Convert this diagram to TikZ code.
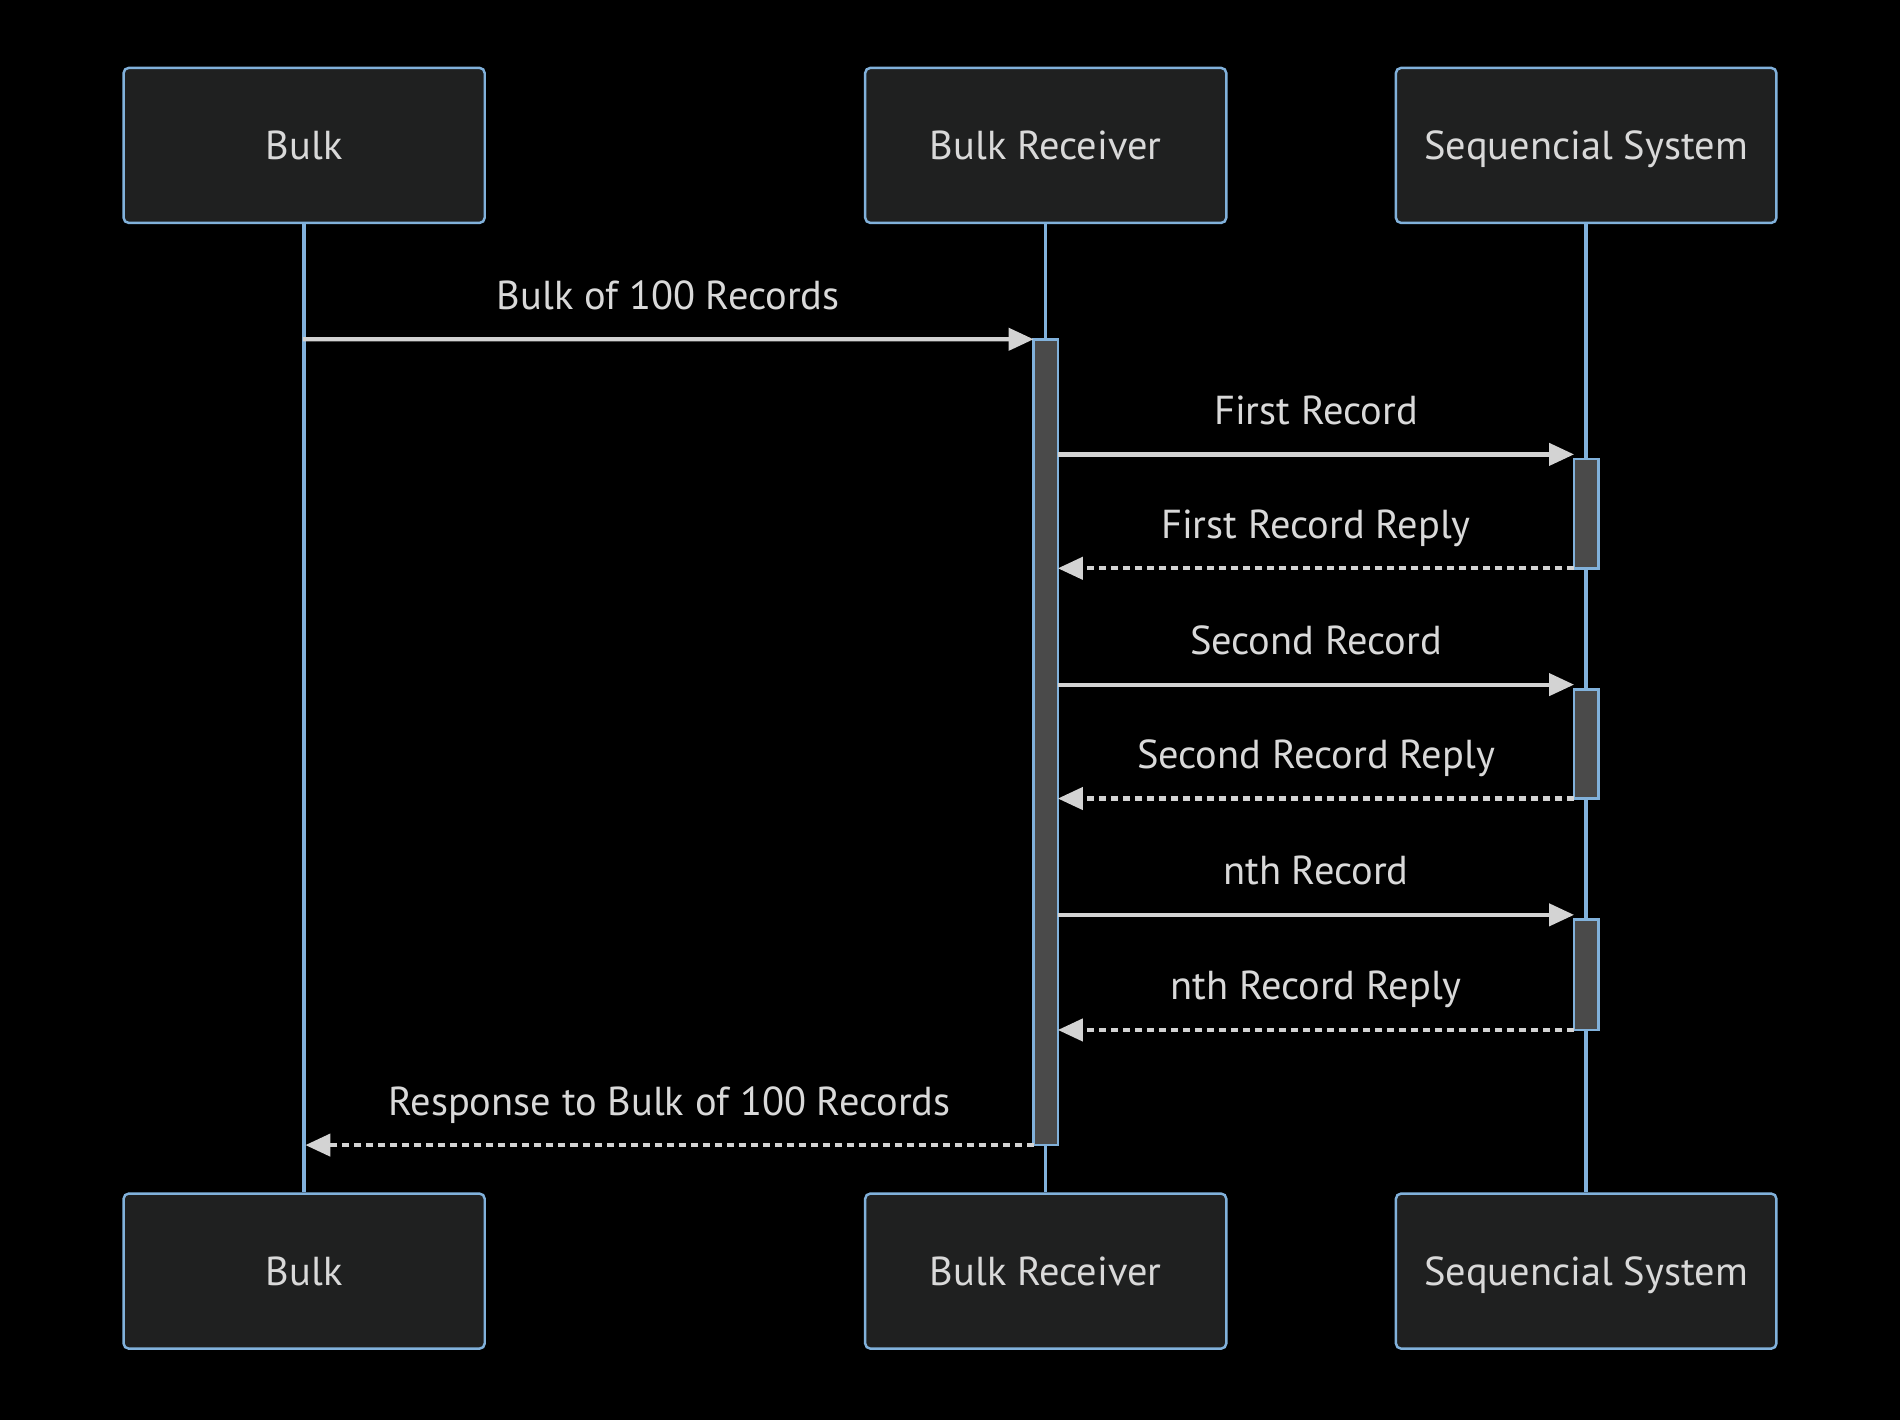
\documentclass[tikz,border=0pt]{standalone}
\usepackage{fontspec}
\setmainfont{PT Sans}
\usetikzlibrary{arrows.meta,fit,positioning}
\definecolor{boxfill}{HTML}{1F2020}
\definecolor{boxline}{HTML}{81B1DB}
\definecolor{msgline}{HTML}{D3D3D3}
\definecolor{actfill}{HTML}{4A4A4A}
\definecolor{labeltext}{HTML}{D9D9D9}

\begin{document}
\begin{tikzpicture}[x=0.012117cm, y=-0.012117cm,
    font=\fontsize{11.5}{14}\selectfont,
    actor/.style={draw=boxline, fill=boxfill, rounded corners=1.5pt,
        line width=0.7pt, minimum height=1.551cm, text=labeltext,
        text height=0.82em, text depth=0pt},
    lifeline/.style={draw=boxline, line width=1pt},
    actbar/.style={draw=boxline, fill=actfill, line width=0.7pt,
        inner sep=0pt, outer sep=0pt},
    msg/.style={draw=msgline, line width=1.2pt,
        -{Triangle[length=0.25cm, width=0.22cm]}},
    reply/.style={msg, dash pattern=on 0.07cm off 0.05cm},
    msglabel/.style={midway, anchor=base, yshift=0.3cm, text=labeltext}]
    % Background and size
    \fill[black] (0,0) rectangle (1568,1172);
    \useasboundingbox (0,0) rectangle (1568,1172);
    % Add the actors
    \node[actor, minimum width=3.611cm] (bulkTop) at (251,120) {Bulk};
    \node[actor, minimum width=3.611cm] (recvTop) at (863,120) {Bulk Receiver};
    \node[actor, minimum width=3.805cm] (seqTop) at (1309,120) {Sequencial System};
    \node[actor, minimum width=3.611cm] (bulkBot) at (251,1049) {Bulk};
    \node[actor, minimum width=3.611cm] (recvBot) at (863,1049) {Bulk Receiver};
    \node[actor, minimum width=3.805cm] (seqBot) at (1309,1049) {Sequencial System};
    % Lifelines
    \draw[lifeline] (bulkTop) -- (bulkBot);
    \draw[lifeline] (recvTop) -- (recvBot);
    \draw[lifeline] (seqTop) -- (seqBot);
    % Activations
    \node[actbar, fit={(853,280) (873,945)}] (act1) {};
    \node[actbar, fit={(1299,379) (1319,469)}] (act2) {};
    \node[actbar, fit={(1299,569) (1319,659)}] (act3) {};
    \node[actbar, fit={(1299,759) (1319,850)}] (act4) {};
    % Message ends
    \coordinate (bulkOut) at (250,280);
    \coordinate (bulkIn) at (252,945);
    \coordinate (seqIn1) at (1299,375);
    \coordinate (seqIn2) at (1299,565);
    \coordinate (seqIn3) at (1299,755);
    % Connect with messages
    \draw[msg] (bulkOut) -- (act1.north west)
        node[msglabel] {Bulk of 100 Records};
    \draw[msg] (act1.east |- seqIn1) -- (seqIn1)
        node[msglabel] {First Record};
    \draw[reply] (act2.south west) -- (act1.east |- act2.south)
        node[msglabel] {First Record Reply};
    \draw[msg] (act1.east |- seqIn2) -- (seqIn2)
        node[msglabel] {Second Record};
    \draw[reply] (act3.south west) -- (act1.east |- act3.south)
        node[msglabel] {Second Record Reply};
    \draw[msg] (act1.east |- seqIn3) -- (seqIn3)
        node[msglabel] {nth Record};
    \draw[reply] (act4.south west) -- (act1.east |- act4.south)
        node[msglabel] {nth Record Reply};
    \draw[reply] (act1.south west) -- (bulkIn)
        node[msglabel] {Response to Bulk of 100 Records};
\end{tikzpicture}
\end{document}
